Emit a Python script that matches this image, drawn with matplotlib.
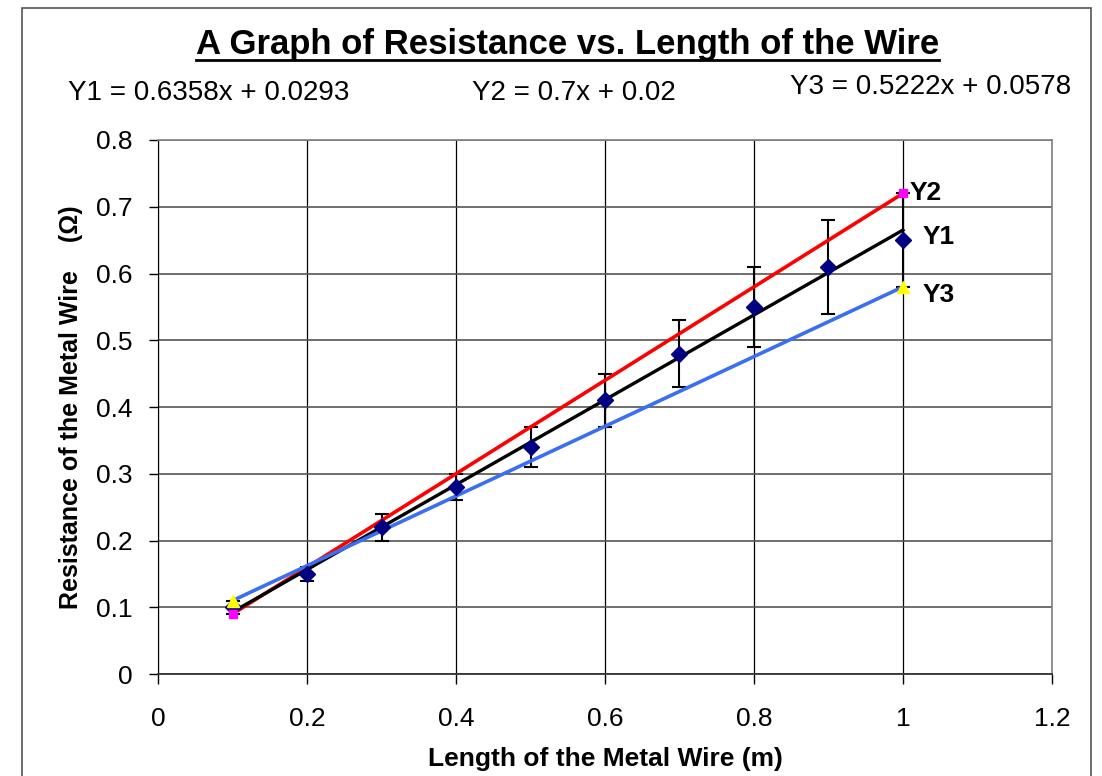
import matplotlib
matplotlib.use('Agg')
import matplotlib.pyplot as plt
from matplotlib.patches import Rectangle
from matplotlib.lines import Line2D
from matplotlib.ticker import FormatStrFormatter, MultipleLocator
import numpy as np

plt.rcParams['font.family'] = ['Liberation Sans', 'DejaVu Sans']

# ---- data ----
length = [0.1, 0.2, 0.3, 0.4, 0.5, 0.6, 0.7, 0.8, 0.9, 1.0]
resistance = [0.10, 0.15, 0.22, 0.28, 0.34, 0.41, 0.48, 0.55, 0.61, 0.65]
res_error = [0.01, 0.01, 0.02, 0.02, 0.03, 0.04, 0.05, 0.06, 0.07, 0.07]

# max / min gradient lines (two end points each)
end_x = [0.1, 1.0]
y2_vals = [0.09, 0.72]
y3_vals = [0.11, 0.58]

eq_texts = ['Y1 = 0.6358x + 0.0293', 'Y2 = 0.7x + 0.02', 'Y3 = 0.5222x + 0.0578']

fig = plt.figure(figsize=(11.02, 7.76), dpi=100)
ax = fig.add_axes([0.1434, 0.1314, 0.9546 - 0.1434, 0.8196 - 0.1314])

# best fit line for Y1
slope, icpt = np.polyfit(length, resistance, 1)
fit_x = np.array(end_x)
fit_y = slope * fit_x + icpt

ax.errorbar(length, resistance, yerr=res_error, fmt='none', ecolor='black',
            elinewidth=1.5, capsize=5, capthick=1.5, zorder=3)
ax.plot(end_x, y2_vals, color='#FF0000', lw=2.6, zorder=4)
ax.plot(fit_x, fit_y, color='black', lw=2.4, zorder=4)
ax.plot(end_x, y3_vals, color='#3A6EF5', lw=2.6, zorder=5)
ax.plot(length, resistance, ls='none', marker='D', color='#000080', ms=8, zorder=6)
ax.plot(end_x, y2_vals, ls='none', marker='s', color='#FF00FF', ms=6, zorder=6)
ax.plot(end_x, y3_vals, ls='none', marker='^', color='#FFFF00', ms=8, zorder=6)

ax.annotate('Y2', (end_x[1], y2_vals[1]), xytext=(5, 0), textcoords='offset points',
            fontsize=19, fontweight='bold', va='center', ha='left')
ax.annotate('Y1', (length[-1], resistance[-1]), xytext=(14, 2), textcoords='offset points',
            fontsize=19, fontweight='bold', va='center', ha='left')
ax.annotate('Y3', (end_x[1], y3_vals[1]), xytext=(14, -6), textcoords='offset points',
            fontsize=19, fontweight='bold', va='center', ha='left')

ax.set_xlim(0, 1.2)
ax.set_ylim(0, 0.8)
ax.xaxis.set_major_locator(MultipleLocator(0.2))
ax.yaxis.set_major_locator(MultipleLocator(0.1))
ax.xaxis.set_major_formatter(FormatStrFormatter('%g'))
ax.yaxis.set_major_formatter(FormatStrFormatter('%g'))
ax.tick_params(axis='x', length=7, width=1, pad=17, labelsize=19)
ax.tick_params(axis='y', length=6.5, width=1, pad=12, labelsize=19)

ax.grid(axis='x', color='black', lw=0.9, zorder=0)
ax.grid(axis='y', color='#555555', lw=1.2, zorder=0)
ax.set_axisbelow(True)
ax.spines['left'].set_color('black')
ax.spines['bottom'].set_color('#333333')
ax.spines['bottom'].set_linewidth(1.3)
for s in ['top', 'right']:
    ax.spines[s].set_color('#808080')
    ax.spines[s].set_linewidth(1.2)

ax.set_xlabel('Length of the Metal Wire (m)', fontsize=19, fontweight='bold', labelpad=11)
ax.set_ylabel('Resistance of the Metal Wire    (\u03a9)', fontsize=18, fontweight='bold', labelpad=9)

# title with underline
title = fig.text(0.515, 0.930, 'A Graph of Resistance vs. Length of the Wire',
                 fontsize=25, fontweight='bold', ha='center', va='baseline')
fig.text(0.0617, 0.880, eq_texts[0], fontsize=20, ha='left', va='center')
fig.text(0.4283, 0.880, eq_texts[1], fontsize=20, ha='left', va='center')
fig.text(0.7169, 0.888, eq_texts[2], fontsize=20, ha='left', va='center')

fig.canvas.draw()
bb = title.get_window_extent().transformed(fig.transFigure.inverted())
uy = 0.930 - 0.0075
fig.add_artist(Line2D([bb.x0, bb.x1], [uy, uy], color='black', lw=2, transform=fig.transFigure))

# outer frame
fig.add_artist(Rectangle((0.020, -0.02), 0.970, 1.0097, transform=fig.transFigure,
                         fill=False, edgecolor='#555555', lw=1.2))

fig.savefig('out.png', dpi=100)
